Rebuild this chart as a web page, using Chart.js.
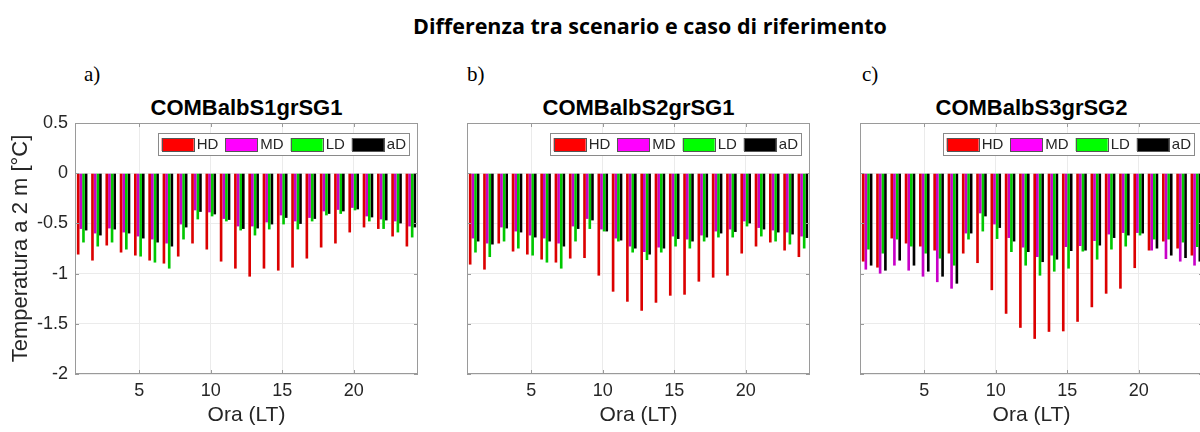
<!DOCTYPE html>
<html>
<head>
<meta charset="utf-8">
<script src="https://cdn.jsdelivr.net/npm/chart.js@4/dist/chart.umd.min.js"></script>
<style>
  html, body { margin: 0; padding: 0; background: #fff; }
  body { position: relative; width: 1200px; height: 432px; overflow: hidden; font-family: "Liberation Sans", Arial, sans-serif; }
  .panel { position: absolute; top: 0; width: 430px; height: 432px; }
  .main-title { position: absolute; left: 390px; width: 520px; top: 11px; text-align: center; font: bold 21.5px "Open Sans", sans-serif; color: #000; }
  .letter { position: absolute; top: 62px; font: 21px "Liberation Serif", serif; color: #000; }
  .sub { position: absolute; top: 95px; width: 343px; text-align: center; font: bold 22px "Liberation Sans", Arial, sans-serif; color: #000; }
</style>
</head>
<body>
<div class="main-title">Differenza tra scenario e caso di riferimento</div>

<div class="letter" style="left:84px">a)</div>
<div class="letter" style="left:467px">b)</div>
<div class="letter" style="left:862px">c)</div>

<div class="sub" style="left:75px">COMBalbS1grSG1</div>
<div class="sub" style="left:467px">COMBalbS2grSG1</div>
<div class="sub" style="left:860px">COMBalbS3grSG2</div>

<div class="panel" style="left:0px"><canvas id="chartA" width="430" height="432"></canvas></div>
<div class="panel" style="left:392px"><canvas id="chartB" width="430" height="432"></canvas></div>
<div class="panel" style="left:785px"><canvas id="chartC" width="430" height="432"></canvas></div>

<script>
const hours = [1, 2, 3, 4, 5, 6, 7, 8, 9, 10, 11, 12, 13, 14, 15, 16, 17, 18, 19, 20, 21, 22, 23, 24]
const xTickLabels = [5, 10, 15, 20]
const yTicks = [0.5, 0, -0.5, -1, -1.5, -2]
const seriesNames = ['HD', 'MD', 'LD', 'aD']

// a) COMBalbS1grSG1
const hdA = [-0.81, -0.87, -0.72, -0.79, -0.82, -0.87, -0.90, -0.83, -0.70, -0.76, -0.88, -0.95, -1.03, -0.95, -0.97, -0.94, -0.85, -0.74, -0.70, -0.59, -0.54, -0.555, -0.63, -0.73]
const mdA = [-0.555, -0.60, -0.55, -0.59, -0.63, -0.66, -0.70, -0.51, -0.37, -0.39, -0.455, -0.53, -0.53, -0.49, -0.42, -0.48, -0.445, -0.38, -0.365, -0.345, -0.43, -0.46, -0.48, -0.53]
const ldA = [-0.69, -0.73, -0.69, -0.76, -0.83, -0.89, -0.95, -0.66, -0.46, -0.43, -0.48, -0.57, -0.62, -0.56, -0.51, -0.56, -0.48, -0.42, -0.405, -0.37, -0.48, -0.555, -0.59, -0.64]
const adA = [-0.57, -0.62, -0.56, -0.60, -0.65, -0.69, -0.73, -0.54, -0.385, -0.41, -0.465, -0.555, -0.55, -0.51, -0.445, -0.505, -0.455, -0.405, -0.38, -0.36, -0.44, -0.47, -0.50, -0.54]

// b) COMBalbS2grSG1
const hdB = [-0.91, -0.96, -0.70, -0.78, -0.81, -0.86, -0.89, -0.85, -0.845, -1.02, -1.18, -1.28, -1.37, -1.29, -1.22, -1.21, -1.08, -1.04, -1.02, -0.80, -0.73, -0.69, -0.77, -0.835]
const mdB = [-0.65, -0.70, -0.54, -0.58, -0.62, -0.65, -0.70, -0.53, -0.455, -0.56, -0.65, -0.73, -0.785, -0.74, -0.63, -0.66, -0.62, -0.58, -0.56, -0.48, -0.545, -0.57, -0.59, -0.63]
const ldB = [-0.79, -0.835, -0.68, -0.75, -0.82, -0.89, -0.95, -0.68, -0.555, -0.58, -0.68, -0.79, -0.865, -0.79, -0.73, -0.75, -0.68, -0.64, -0.64, -0.53, -0.63, -0.68, -0.71, -0.75]
const adB = [-0.68, -0.71, -0.55, -0.59, -0.64, -0.68, -0.73, -0.555, -0.47, -0.58, -0.67, -0.75, -0.81, -0.75, -0.655, -0.68, -0.64, -0.60, -0.585, -0.50, -0.56, -0.59, -0.61, -0.645]

// c) COMBalbS3grSG2
const hdC = [-0.88, -0.94, -0.65, -0.70, -0.73, -0.77, -0.80, -0.80, -0.895, -1.165, -1.40, -1.54, -1.65, -1.58, -1.575, -1.48, -1.335, -1.20, -1.15, -0.945, -0.77, -0.68, -0.75, -0.82]
const mdC = [-0.96, -1.00, -0.92, -0.97, -1.03, -1.085, -1.15, -0.60, -0.40, -0.51, -0.645, -0.74, -0.835, -0.82, -0.735, -0.725, -0.675, -0.61, -0.595, -0.595, -0.77, -0.855, -0.88, -0.92]
const ldC = [-0.76, -0.80, -0.66, -0.73, -0.80, -0.85, -0.92, -0.66, -0.58, -0.655, -0.785, -0.92, -1.02, -0.98, -0.95, -0.78, -0.86, -0.76, -0.73, -0.62, -0.66, -0.66, -0.69, -0.735]
const adC = [-0.92, -0.97, -0.87, -0.92, -0.98, -1.03, -1.10, -0.60, -0.43, -0.545, -0.68, -0.785, -0.885, -0.86, -0.775, -0.77, -0.72, -0.645, -0.62, -0.60, -0.75, -0.82, -0.845, -0.88]

const fills = ['#ff0000', '#ff00ff', '#00ff00', '#000000']
const barFills = ['#dc0000', '#c800c8', '#00c800', '#000000']

const AXIS_COLOR = '#9a9a9a'
const GRID_COLOR = '#ebebeb'
const TEXT_COLOR = '#262626'
const FONT = '"Liberation Sans", Arial, sans-serif'

// box around the axes plus small inward ticks, like a matlab axes with box on
const axesBox = {
  id: 'axesBox',
  afterDatasetsDraw(chart) {
    const { ctx, chartArea: a, scales } = chart
    ctx.save()
    ctx.strokeStyle = AXIS_COLOR
    ctx.lineWidth = 1
    ctx.strokeRect(Math.round(a.left) + 0.5, Math.round(a.top) + 0.5, Math.round(a.width) - 1, Math.round(a.height) - 1)
    ctx.beginPath()
    for (const v of yTicks) {
      const y = Math.round(scales.y.getPixelForValue(v)) + 0.5
      ctx.moveTo(a.left, y); ctx.lineTo(a.left + 4, y)
      ctx.moveTo(a.right, y); ctx.lineTo(a.right - 4, y)
    }
    hours.forEach((h, i) => {
      if (!xTickLabels.includes(h)) return
      const x = Math.round(scales.x.getPixelForValue(i)) + 0.5
      ctx.moveTo(x, a.bottom); ctx.lineTo(x, a.bottom - 4)
      ctx.moveTo(x, a.top); ctx.lineTo(x, a.top + 4)
    })
    ctx.stroke()
    ctx.restore()
  },
}

// legend box in the top right corner of the axes
const boxLegend = {
  id: 'boxLegend',
  afterDraw(chart) {
    const { ctx, chartArea: a } = chart
    const sets = chart.data.datasets
    ctx.save()
    ctx.font = '15px ' + FONT
    const sw = 32, sh = 13, gap = 3, itemGap = 7
    const widths = sets.map(ds => ctx.measureText(ds.label).width)
    const total = 4 + widths.reduce((s, w) => s + sw + gap + w, 0) + itemGap * (sets.length - 1) + 3
    const right = a.right - 9
    const left = right - total
    const top = a.top + 10
    const h = 22
    ctx.fillStyle = '#fff'
    ctx.fillRect(left, top, total, h)
    ctx.strokeStyle = '#8a8a8a'
    ctx.lineWidth = 1
    ctx.strokeRect(Math.round(left) + 0.5, top + 0.5, Math.round(total), h)
    let x = left + 4
    sets.forEach((ds, i) => {
      ctx.fillStyle = fills[i]
      ctx.fillRect(x, top + (h - sh) / 2 + 0.5, sw, sh)
      ctx.strokeStyle = '#555'
      ctx.strokeRect(Math.round(x) + 0.5, Math.round(top + (h - sh) / 2) + 0.5, sw, sh)
      x += sw + gap
      ctx.fillStyle = TEXT_COLOR
      ctx.textBaseline = 'middle'
      ctx.fillText(ds.label, x, top + h / 2 + 1)
      x += widths[i] + itemGap
    })
    ctx.restore()
  },
}

function makePanel(canvasId, series, showY) {
  const datasets = series.map((values, i) => ({
    label: seriesNames[i],
    data: values,
    backgroundColor: barFills[i],
    borderWidth: 0,
    categoryPercentage: 0.74,
    barPercentage: 1,
  }))

  return new Chart(document.getElementById(canvasId), {
    type: 'bar',
    data: { labels: hours, datasets },
    plugins: [axesBox, boxLegend],
    options: {
      responsive: false,
      animation: false,
      devicePixelRatio: 1,
      layout: { padding: { top: 123, right: 12, left: 0, bottom: 0 } },
      plugins: {
        legend: { display: false },
        tooltip: { enabled: false },
      },
      scales: {
        x: {
          offset: true,
          afterFit: s => { s.height = 58 },
          grid: {
            offset: false,
            drawTicks: false,
            color: c => xTickLabels.includes(hours[c.index]) ? GRID_COLOR : 'rgba(0,0,0,0)',
          },
          border: { display: false },
          ticks: {
            autoSkip: false,
            maxRotation: 0,
            padding: 6,
            color: TEXT_COLOR,
            font: { family: FONT, size: 18 },
            callback: (v, i) => xTickLabels.includes(hours[i]) ? String(hours[i]) : '',
          },
          title: {
            display: true,
            text: 'Ora (LT)',
            color: TEXT_COLOR,
            font: { family: FONT, size: 21 },
            padding: { top: 0, bottom: 4 },
          },
        },
        y: {
          min: -2,
          max: 0.5,
          afterFit: s => { s.width = 75 },
          grid: { color: GRID_COLOR, drawTicks: false },
          border: { display: false },
          ticks: {
            stepSize: 0.5,
            display: showY,
            padding: 7,
            color: TEXT_COLOR,
            font: { family: FONT, size: 18 },
            callback: v => String(Number(v.toFixed(1))),
          },
          title: {
            display: showY,
            text: 'Temperatura a 2 m [°C]',
            color: TEXT_COLOR,
            font: { family: FONT, size: 22 },
            padding: { top: 8, bottom: 0 },
          },
        },
      },
    },
  })
}

makePanel('chartA', [hdA, mdA, ldA, adA], true)
makePanel('chartB', [hdB, mdB, ldB, adB], false)
makePanel('chartC', [hdC, mdC, ldC, adC], false)
</script>
</body>
</html>
